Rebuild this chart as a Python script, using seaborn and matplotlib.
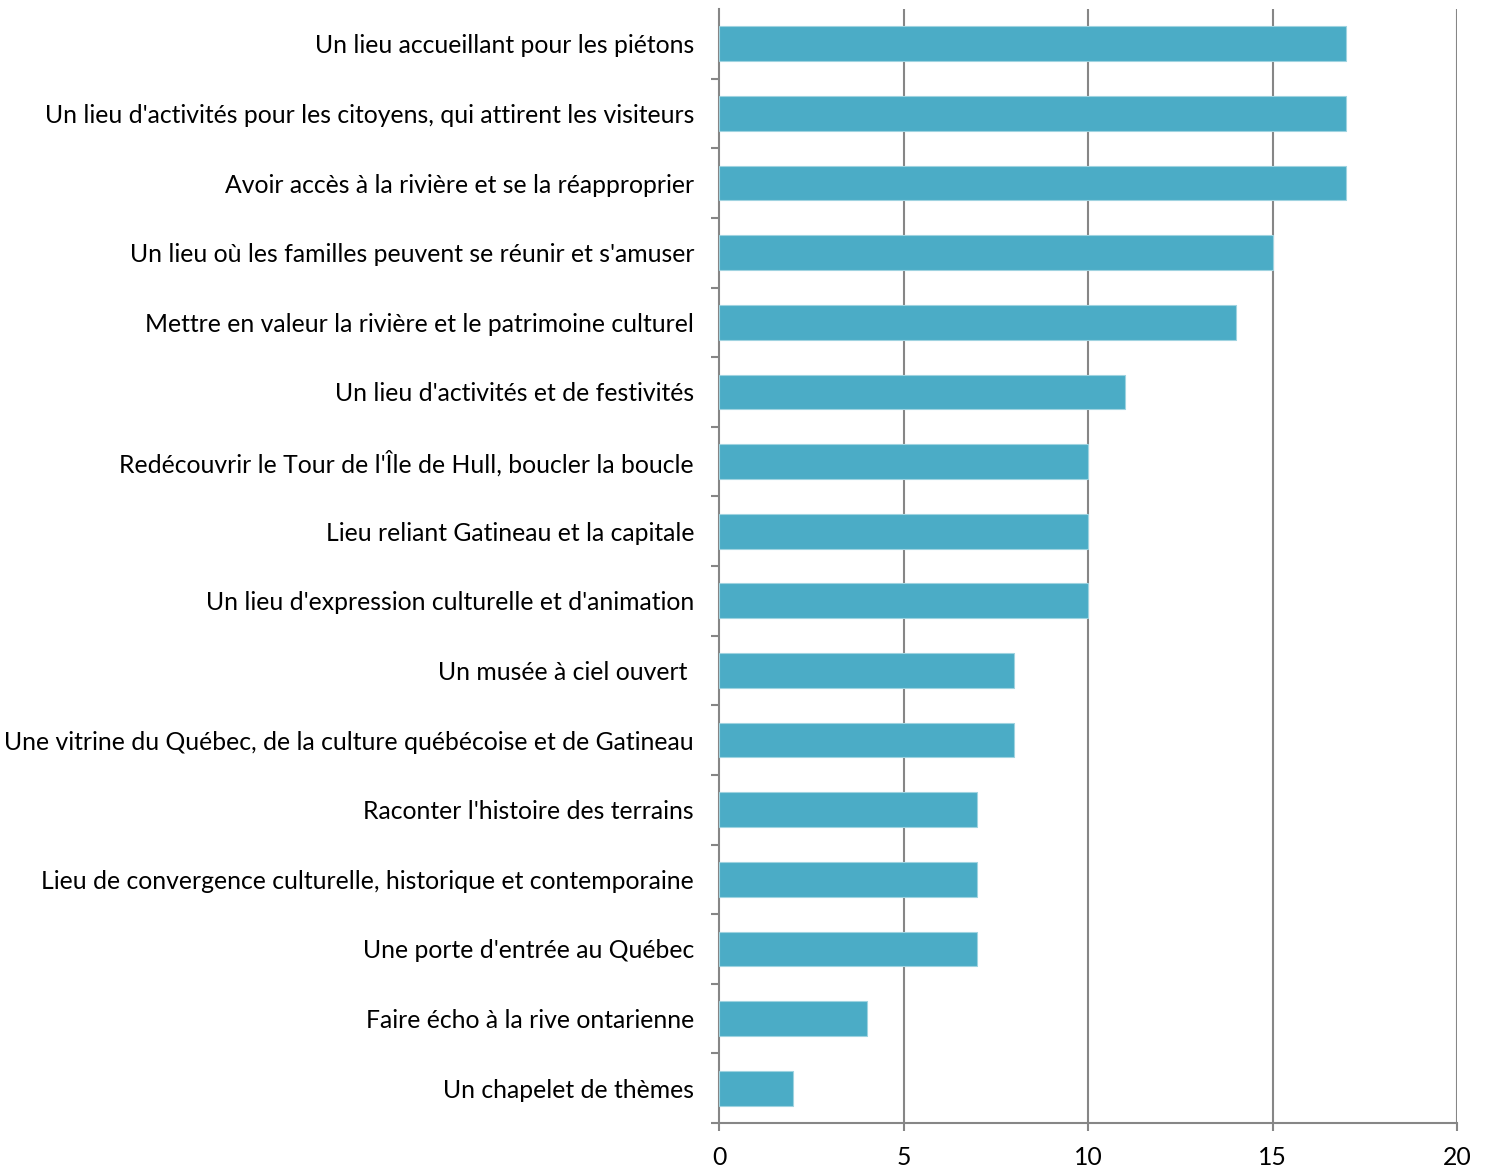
import numpy as np
import pandas as pd
import matplotlib
matplotlib.use("Agg")
import matplotlib.pyplot as plt
import seaborn as sns

categories = [
    "Un lieu accueillant pour les piétons",
    "Un lieu d'activités pour les citoyens, qui attirent les visiteurs",
    "Avoir accès à la rivière et se la réapproprier",
    "Un lieu où les familles peuvent se réunir et s'amuser",
    "Mettre en valeur la rivière et le patrimoine culturel",
    "Un lieu d'activités et de festivités",
    "Redécouvrir le Tour de l'Île de Hull, boucler la boucle",
    "Lieu reliant Gatineau et la capitale",
    "Un lieu d'expression culturelle et d'animation",
    "Un musée à ciel ouvert ",
    "Une vitrine du Québec, de la culture québécoise et de Gatineau",
    "Raconter l'histoire des terrains",
    "Lieu de convergence culturelle, historique et contemporaine",
    "Une porte d'entrée au Québec",
    "Faire écho à la rive ontarienne",
    "Un chapelet de thèmes",
]
values = [17, 17, 17, 15, 14, 11, 10, 10, 10, 8, 8, 7, 7, 7, 4, 2]
x_ticks = [0, 5, 10, 15, 20]

df = pd.DataFrame({"label": categories, "count": values})

sns.set_style("white")
plt.rcParams["font.family"] = ["Lato", "DejaVu Sans"]

gray = "#868686"
fig = plt.figure(figsize=(14.85, 11.69), dpi=100)
ax = fig.add_axes([719 / 1485, 1 - 1123 / 1169, (1457 - 719) / 1485, (1123 - 9) / 1169])

sns.barplot(data=df, x="count", y="label", color="#4BACC6", width=0.5,
            saturation=1, edgecolor="#9fd3e0", linewidth=0.8, ax=ax, zorder=3)

ax.set_xlim(0, 20)
ax.set_ylim(len(categories) - 0.5, -0.5)
ax.set_xticks(x_ticks)
ax.set_xticklabels([str(t) for t in x_ticks])
ax.set_xlabel("")
ax.set_ylabel("")

for s in ["top", "right"]:
    ax.spines[s].set_visible(False)
for s in ["left", "bottom"]:
    ax.spines[s].set_color(gray)
    ax.spines[s].set_linewidth(1.5)

ax.grid(False)
for t in x_ticks[1:]:
    ax.axvline(t, color=gray, lw=1.5, zorder=1)

ax.set_yticks(np.arange(0.5, len(categories), 1.0), minor=True)
ax.tick_params(axis="y", which="major", length=0, pad=18, labelsize=17.8, labelcolor="black")
ax.tick_params(axis="y", which="minor", length=5.5, width=1.5, color=gray, left=True)
ax.tick_params(axis="x", which="major", length=5.5, width=1.5, color=gray, bottom=True,
               pad=11, labelsize=17.8, labelcolor="black")

fig.savefig("out.png", dpi=100)
